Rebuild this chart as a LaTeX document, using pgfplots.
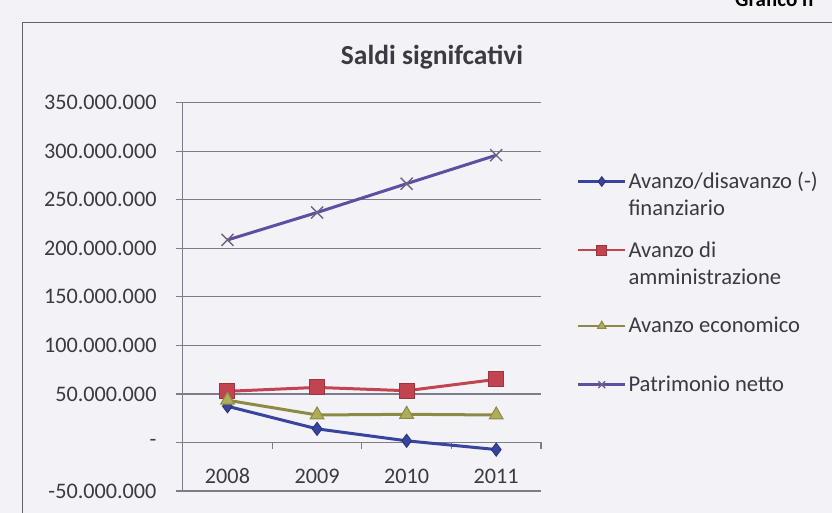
\documentclass[border=0pt]{standalone}
\usepackage{pgfplots}
\pgfplotsset{compat=1.18}
\usepackage{fontspec}
\setmainfont{Carlito}
\definecolor{bgc}{RGB}{243,243,247}
\definecolor{gridc}{RGB}{124,124,138}
\definecolor{txtc}{RGB}{58,58,66}
\definecolor{cblue}{RGB}{56,68,158}
\definecolor{cred}{RGB}{194,68,80}
\definecolor{colive}{RGB}{140,138,70}
\definecolor{colivef}{RGB}{176,172,88}
\definecolor{cpurple}{RGB}{96,78,162}
\definecolor{cxmark}{RGB}{110,100,130}
\newcommand\lf{\fontsize{22.6bp}{26bp}\selectfont}
\newcommand\lent[2]{\lf\raisebox{0pt}[#1][0pt]{#2}}
\begin{document}
\begin{tikzpicture}
\fill[bgc] (0,0) rectangle (832bp,513bp);
\useasboundingbox (0,0) rectangle (832bp,513bp);
\draw[gridc!80!black, line width=1.3bp] (22.7bp,-10bp) -- (22.7bp,490.3bp) -- (850bp,490.3bp);
\node[anchor=base west, text=black, font=\fontsize{21bp}{25bp}\selectfont\bfseries, inner sep=0pt] at (735bp,506.3bp) {Grafico n};
\node[text=txtc, font=\fontsize{27.5bp}{33bp}\selectfont\bfseries] at (432bp,456.3bp) {Saldi signifcativi};
\begin{axis}[
  at={(182.7bp,22bp)}, anchor=south west,
  scale only axis, width=358.3bp, height=388.3bp,
  xmin=-0.5, xmax=3.5, ymin=-50000000, ymax=350000000,
  axis x line*=bottom, axis y line*=left,
  x axis line style={draw=gridc, line width=1.2bp},
  y axis line style={draw=gridc, line width=1.3bp},
  xtick={0,1,2,3}, xticklabels={2008,2009,2010,2011},
  xtick style={draw=none},
  ytick={-50000000,0,50000000,100000000,150000000,200000000,250000000,300000000,350000000},
  yticklabels={-50.000.000,{-},50.000.000,100.000.000,150.000.000,200.000.000,250.000.000,300.000.000,350.000.000},
  scaled y ticks=false,
  tick align=outside, major tick length=6.5bp,
  ytick style={draw=gridc, line width=1.2bp},
  ymajorgrids, grid style={draw=gridc, line width=1.2bp},
  tick label style={text=txtc, font=\fontsize{22.2bp}{26bp}\selectfont, inner sep=0pt},
  yticklabel style={anchor=east, xshift=-19.5bp},
  xticklabel style={anchor=base, yshift=13.5bp},
  legend style={at={(1.1,0.831)}, anchor=north west, draw=none, fill=none,
    inner sep=0pt, row sep=0pt, column sep=2bp,
    text=txtc, nodes={inner sep=0pt, anchor=base west}},
  legend cell align=left,
  legend image code/.code={\draw[mark repeat=2,mark phase=2,line width=2.5bp,mark size=4.8bp] plot coordinates {(0bp,7bp)(23.5bp,7bp)(47bp,7bp)};},
  clip=false,
]
\draw[gridc, line width=1.3bp] (axis cs:-0.5,0) -- (axis cs:3.5,0);
\draw[gridc, line width=1.2bp] (axis cs:0.5,0) -- ([yshift=-7bp]axis cs:0.5,0);
\draw[gridc, line width=1.2bp] (axis cs:1.5,0) -- ([yshift=-7bp]axis cs:1.5,0);
\draw[gridc, line width=1.2bp] (axis cs:2.5,0) -- ([yshift=-7bp]axis cs:2.5,0);
\draw[gridc, line width=1.2bp] (axis cs:3.5,0) -- ([yshift=-7bp]axis cs:3.5,0);
\addplot[cblue, line width=3bp, mark=diamond*, mark size=6.5bp, mark options={fill=cblue, draw=cblue!80!black, line width=1bp}]
  coordinates {(0,37300000)(1,14000000)(2,1700000)(3,-7300000)};
\addlegendentry{\lent{20bp}{Avanzo/disavanzo (-)}}
\addlegendimage{empty legend}
\addlegendentry{\lent{25bp}{finanziario}}
\addplot[cred, line width=3bp, mark=square*, mark size=7.5bp, mark options={fill=cred, draw=cred!80!black, line width=1bp}]
  coordinates {(0,52700000)(1,56700000)(2,53300000)(3,65000000)};
\addlegendentry{\lent{40.7bp}{Avanzo di}}
\addlegendimage{empty legend}
\addlegendentry{\lent{26bp}{amministrazione}}
\addplot[colive, line width=3bp, mark=triangle*, mark size=8bp, mark options={fill=colivef, draw=colive, line width=1bp}]
  coordinates {(0,43500000)(1,28300000)(2,29000000)(3,28300000)};
\addlegendentry{\lent{46.7bp}{Avanzo economico}}
\addplot[cpurple, line width=3bp, mark=x, mark size=8.5bp, mark options={draw=cxmark, line width=1.4bp}]
  coordinates {(0,208600000)(1,236900000)(2,266600000)(3,295900000)};
\addlegendentry{\lent{57.3bp}{Patrimonio netto}}
\end{axis}
\end{tikzpicture}
\end{document}
